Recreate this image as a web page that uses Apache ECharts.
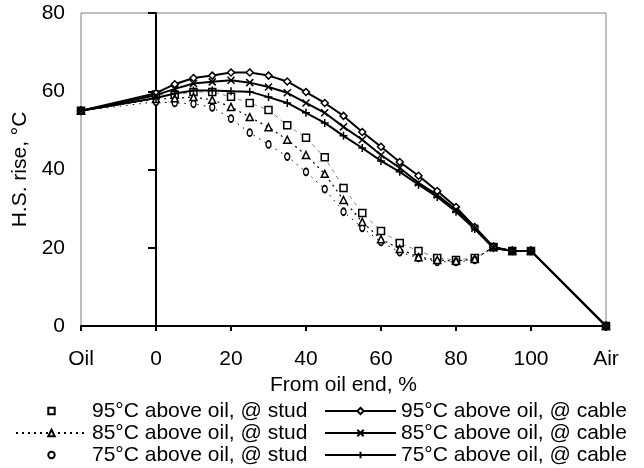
<!DOCTYPE html>
<html>
<head>
<meta charset="utf-8">
<script src="https://cdn.jsdelivr.net/npm/echarts@6/dist/echarts.min.js"></script>
<style>
  html, body { margin: 0; padding: 0; background: #fff; }
  #chart { width: 644px; height: 468px; }
</style>
</head>
<body>
<div id="chart"></div>
<script>
// positions along the winding, % from oil end (-20 = Oil, 120 = Air)
const xs = [-20, 0, 5, 10, 15, 20, 25, 30, 35, 40, 45, 50, 55, 60, 65, 70, 75, 80, 85, 90, 95, 100, 120]
const xTickLabels = { '-20': 'Oil', '120': 'Air' }

// hot spot rise, °C
const stud95 = [55, 59.2, 59.1, 59.8, 59.8, 58.6, 57.0, 55.2, 51.3, 48.1, 43.1, 35.3, 28.9, 24.3, 21.2, 19.2, 17.4, 16.9, 17.4, 20.2, 19.2, 19.2, 0]
const stud85 = [55, 58.0, 58.2, 58.5, 57.8, 56.0, 53.4, 50.8, 47.6, 43.7, 38.9, 32.2, 26.6, 22.2, 19.7, 17.6, 16.9, 16.6, 17.1, 20.2, 19.2, 19.2, 0]
const stud75 = [55, 57.3, 57.0, 56.8, 55.9, 53.0, 49.4, 46.4, 43.3, 39.4, 35.0, 29.2, 25.1, 21.5, 18.9, 17.4, 16.4, 16.4, 16.9, 20.2, 19.2, 19.2, 0]
const cable95 = [55, 59.5, 61.8, 63.4, 64.0, 64.8, 64.8, 64.0, 62.5, 59.8, 57.0, 53.7, 49.6, 45.8, 41.9, 38.4, 34.5, 30.4, 25.3, 20.2, 19.2, 19.2, 0]
const cable85 = [55, 59.0, 60.6, 62.0, 62.4, 62.8, 62.2, 61.1, 59.6, 57.0, 54.5, 50.9, 47.6, 43.7, 40.4, 36.6, 33.5, 29.7, 25.0, 20.0, 19.2, 19.2, 0]
const cable75 = [55, 58.3, 59.4, 60.2, 60.2, 60.0, 59.9, 58.5, 57.0, 54.5, 51.9, 48.6, 45.5, 42.2, 39.4, 36.1, 33.0, 29.2, 24.8, 19.9, 19.2, 19.2, 0]

const FONT = "'Liberation Sans', Arial, sans-serif"
const FS = 21
const pair = arr => xs.map((x, i) => [x, arr[i]])

const crossPath = 'path://M0,0L10,10M10,0L0,10'
const plusPath = 'path://M5,0L5,10M0,5L10,5'

const studMarker = { color: '#fff', borderColor: '#000', borderWidth: 1.5 }
const cableMarker = { color: '#fff', borderColor: '#000', borderWidth: 1.5 }

const series = [
  {
    name: '95°C above oil, @ stud',
    data: pair(stud95),
    symbol: 'rect', symbolSize: 7,
    lineStyle: { color: '#888', width: 1, type: [4, 4] },
    itemStyle: studMarker,
    z: 2,
  },
  {
    name: '95°C above oil, @ cable',
    data: pair(cable95),
    symbol: 'diamond', symbolSize: 7,
    lineStyle: { color: '#000', width: 2 },
    itemStyle: cableMarker,
    z: 5,
  },
  {
    name: '85°C above oil, @ stud',
    data: pair(stud85),
    symbol: 'triangle', symbolSize: 7,
    lineStyle: { color: '#000', width: 1.2, type: [2, 4] },
    itemStyle: studMarker,
    z: 3,
  },
  {
    name: '85°C above oil, @ cable',
    data: pair(cable85),
    symbol: crossPath, symbolSize: 7,
    lineStyle: { color: '#000', width: 2 },
    itemStyle: cableMarker,
    z: 5,
  },
  {
    name: '75°C above oil, @ stud',
    data: pair(stud75),
    symbol: 'circle', symbolSize: [5, 7],
    lineStyle: { color: '#000', width: 1, type: [1.5, 5] },
    itemStyle: studMarker,
    z: 2,
  },
  {
    name: '75°C above oil, @ cable',
    data: pair(cable75),
    symbol: plusPath, symbolSize: 8,
    lineStyle: { color: '#000', width: 2 },
    itemStyle: cableMarker,
    z: 5,
  },
].map(s => ({ type: 'line', showSymbol: true, animation: false, ...s }))

const legendCommon = {
  orient: 'vertical',
  top: 400,
  height: 66,
  padding: 0,
  itemWidth: 71,
  itemHeight: 8,
  itemGap: 0,
  selectedMode: false,
  textStyle: { color: '#000', fontSize: FS, fontFamily: FONT, lineHeight: 22 },
}

const chart = echarts.init(document.getElementById('chart'), null, { renderer: 'canvas' })

chart.setOption({
  backgroundColor: '#fff',
  animation: false,
  textStyle: { fontFamily: FONT },
  grid: {
    left: 81, right: 38, top: 13, bottom: 142,
    containLabel: false,
    outerBoundsMode: 'none',
    show: true, borderColor: '#808080', borderWidth: 1,
  },
  legend: [
    {
      ...legendCommon,
      left: 15,
      data: [
        { name: '95°C above oil, @ stud', lineStyle: { opacity: 0 } },
        { name: '85°C above oil, @ stud' },
        { name: '75°C above oil, @ stud', lineStyle: { opacity: 0 } },
      ],
    },
    {
      ...legendCommon,
      left: 324,
      data: ['95°C above oil, @ cable', '85°C above oil, @ cable', '75°C above oil, @ cable'],
    },
  ],
  xAxis: {
    type: 'value',
    min: -20, max: 120, interval: 20,
    name: 'From oil end, %',
    nameLocation: 'middle',
    nameGap: 47,
    nameTextStyle: { color: '#000', fontSize: FS, fontFamily: FONT },
    axisLine: { show: true, lineStyle: { color: '#000', width: 2 } },
    axisTick: { show: true, length: 5, lineStyle: { color: '#000', width: 2 } },
    axisLabel: {
      color: '#000', fontSize: FS, fontFamily: FONT, margin: 23,
      formatter: v => xTickLabels[v] || String(v),
    },
    splitLine: { show: false },
  },
  yAxis: {
    type: 'value',
    min: 0, max: 80, interval: 20,
    name: 'H.S. rise, °C',
    nameLocation: 'middle',
    nameGap: 40,
    nameTextStyle: { color: '#000', fontSize: FS, fontFamily: FONT },
    axisLine: { show: true, onZero: true, lineStyle: { color: '#000', width: 2 } },
    axisTick: { show: true, length: 8, lineStyle: { color: '#000', width: 2 } },
    axisLabel: { color: '#000', fontSize: FS, fontFamily: FONT, margin: 16 },
    splitLine: { show: false },
  },
  series,
})
</script>
</body>
</html>
